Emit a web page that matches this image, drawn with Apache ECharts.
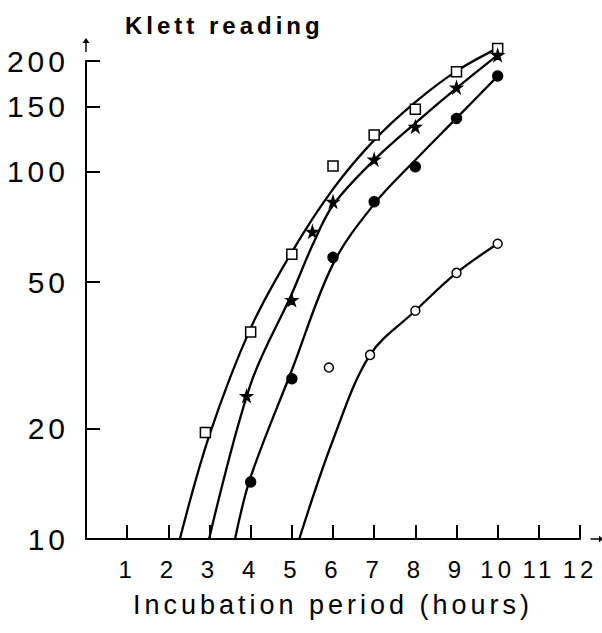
<!DOCTYPE html>
<html>
<head>
<meta charset="utf-8">
<script src="https://cdn.jsdelivr.net/npm/echarts@6/dist/echarts.min.js"></script>
<style>
  html, body { margin: 0; padding: 0; background: #fff; }
  #main { width: 602px; height: 633px; }
  /* the printed figure uses wide letter spacing */
  #main text { letter-spacing: 4px; }
</style>
</head>
<body>
<div id="main"></div>
<script>
// measured points (hours, Klett reading)
const squareHours = [2.9, 4, 5, 6, 7, 8, 9, 10]
const squareReadings = [19.5, 36.6, 59.6, 103.5, 125.7, 147.7, 186.9, 216.4]
const starHours = [3.9, 5, 5.5, 6, 7, 8, 9, 10]
const starReadings = [24.5, 44.7, 68.6, 82.8, 107.9, 132.4, 169.5, 207.5]
const dotHours = [4, 5, 6, 7, 8, 9, 10]
const dotReadings = [14.3, 27.3, 58.4, 82.8, 103.1, 139.5, 182]
const circleHours = [5.9, 6.9, 8, 9, 10]
const circleReadings = [29.3, 31.7, 41.8, 53.0, 63.6]

// hand-drawn curves
const squareCurveHours = [2.28, 3, 4, 5, 6, 7, 8, 9, 10]
const squareCurveReadings = [10, 19.2, 37.5, 60.4, 89.6, 121.8, 154.6, 187.7, 216.8]
const starCurveHours = [2.99, 4, 5, 5.5, 6, 7, 8, 9, 10]
const starCurveReadings = [10, 26.4, 46.5, 63, 81, 107.5, 135.5, 168.7, 207.5]
const dotCurveHours = [3.62, 4, 5, 6, 7, 8, 9, 10]
const dotCurveReadings = [10, 14.75, 28.8, 56.0, 81.6, 107.5, 139.8, 181.9]
const circleCurveHours = [5.18, 6, 6.9, 8, 9, 10]
const circleCurveReadings = [10, 18.6, 31.7, 41.8, 53.0, 63.6]

const xTicks = [1, 2, 3, 4, 5, 6, 7, 8, 9, 10, 11, 12]
const yTicks = [20, 50, 100, 150, 200]
const yLabels = [10, 20, 50, 100, 150, 200]

const font = 'Liberation Sans'
const arrow = 'path://M5,0 L10,7 L6,7 L6,20 L4,20 L4,7 L0,7 Z'
const star = 'path://M50,0 L61,35 L98,35 L68,57 L79,91 L50,70 L21,91 L32,57 L2,35 L39,35 Z'

function pairs(xs, ys) {
  return xs.map((x, i) => [x, ys[i]])
}

function curve(xs, ys) {
  return {
    type: 'line',
    data: pairs(xs, ys),
    smooth: 0.35,
    showSymbol: false,
    clip: false,
    silent: true,
    lineStyle: { color: '#000', width: 2.3 },
    z: 1
  }
}

function points(xs, ys, symbol, size, fill) {
  return {
    type: 'scatter',
    data: pairs(xs, ys),
    symbol: symbol,
    symbolSize: size,
    clip: false,
    itemStyle: { color: fill, borderColor: '#000', borderWidth: 1.5, opacity: 1 },
    z: 3
  }
}

const chart = echarts.init(document.getElementById('main'), null, { renderer: 'svg' })
chart.setOption({
  animation: false,
  backgroundColor: '#fff',
  title: {
    text: 'Klett reading',
    left: 120,
    top: 8,
    textStyle: { fontFamily: font, fontSize: 24, fontWeight: 'bold', color: '#000' }
  },
  grid: { left: 86, right: 22, top: 61, bottom: 94 },
  xAxis: {
    type: 'value',
    min: 0,
    max: 12,
    interval: 1,
    name: 'Incubation period (hours)',
    nameLocation: 'middle',
    nameGap: 52,
    nameTextStyle: { fontFamily: font, fontSize: 27, color: '#000' },
    axisLine: {
      lineStyle: { color: '#000', width: 2 },
      symbol: ['none', arrow],
      symbolSize: [7, 13],
      symbolOffset: [0, 17]
    },
    axisTick: { customValues: xTicks, inside: true, length: 14, lineStyle: { color: '#000', width: 2 } },
    axisLabel: { customValues: xTicks, fontFamily: font, fontSize: 24, color: '#000', margin: 18 },
    splitLine: { show: false }
  },
  yAxis: {
    type: 'log',
    logBase: 10,
    min: 10,
    max: 200,
    axisLine: {
      lineStyle: { color: '#000', width: 2 },
      symbol: ['none', arrow],
      symbolSize: [7, 14],
      symbolOffset: [0, 16]
    },
    axisTick: { customValues: yTicks, inside: true, length: 14, lineStyle: { color: '#000', width: 2 } },
    axisLabel: { customValues: yLabels, fontFamily: font, fontSize: 30, color: '#000', margin: 17 },
    splitLine: { show: false }
  },
  series: [
    curve(squareCurveHours, squareCurveReadings),
    curve(starCurveHours, starCurveReadings),
    curve(dotCurveHours, dotCurveReadings),
    curve(circleCurveHours, circleCurveReadings),
    points(squareHours, squareReadings, 'rect', 10, '#fff'),
    points(starHours, starReadings, star, 11, '#000'),
    points(dotHours, dotReadings, 'circle', 10, '#000'),
    points(circleHours, circleReadings, 'circle', 9, '#fff')
  ]
})
</script>
</body>
</html>
